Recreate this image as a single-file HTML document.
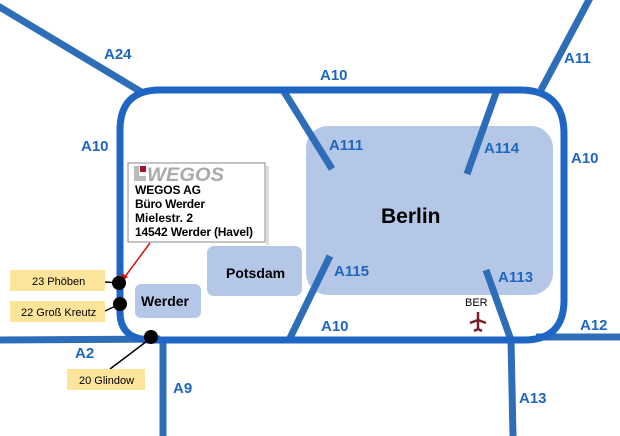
<!DOCTYPE html>
<html><head><meta charset="utf-8"><style>
html,body{margin:0;padding:0;background:#fff;width:620px;height:436px;overflow:hidden}
svg{display:block}
.l{font-family:"Liberation Sans",sans-serif;font-weight:bold;font-size:15px;fill:#1f66bf}
.b{font-family:"Liberation Sans",sans-serif;font-weight:bold;fill:#000}
.y{font-family:"Liberation Sans",sans-serif;font-size:11px;fill:#000}
</style></head><body>
<svg width="620" height="436" viewBox="0 0 620 436">
<rect x="306" y="126" width="247" height="169" rx="22" fill="#b4c7e7"/>
<rect x="207" y="246" width="95" height="50" rx="7" fill="#b4c7e7"/>
<rect x="135" y="284" width="66" height="34" rx="6" fill="#b4c7e7"/>
<g stroke="#2e6db7" stroke-width="7" fill="none">
<line x1="-2" y1="6" x2="143" y2="93"/>
<line x1="590" y1="-2" x2="541" y2="90"/>
<line x1="283" y1="90" x2="332" y2="169"/>
<line x1="497" y1="90" x2="467" y2="174"/>
<line x1="330" y1="256" x2="289" y2="340"/>
<line x1="486" y1="270" x2="511" y2="340"/>
<line x1="511" y1="340" x2="513" y2="436"/>
<line x1="536" y1="337" x2="620" y2="337"/>
<line x1="0" y1="340" x2="160" y2="339"/>
<line x1="163" y1="339" x2="163" y2="436"/>
</g>
<path d="M120 312 L120 130 Q120 90 160 90 L520 90 Q564 90 564 134 L564 300 Q564 340 524 340 L152 340 Q120 340 120 312 Z" stroke="#1f66c4" stroke-width="7" fill="none"/>
<text class="l" x="104" y="59">A24</text>
<text class="l" x="320" y="80">A10</text>
<text class="l" x="564" y="63">A11</text>
<text class="l" x="81" y="151">A10</text>
<text class="l" x="329" y="150">A111</text>
<text class="l" x="484" y="153">A114</text>
<text class="l" x="571" y="163">A10</text>
<text class="l" x="334" y="276">A115</text>
<text class="l" x="498" y="282">A113</text>
<text class="l" x="321" y="331">A10</text>
<text class="l" x="580" y="330">A12</text>
<text class="l" x="75" y="358">A2</text>
<text class="l" x="173" y="393">A9</text>
<text class="l" x="519" y="403">A13</text>
<text class="b" x="381" y="223" font-size="21">Berlin</text>
<text class="b" x="226" y="278" font-size="14">Potsdam</text>
<text class="b" x="141" y="306" font-size="14">Werder</text>
<text font-family="Liberation Sans,sans-serif" font-size="11" x="465" y="306">BER</text>
<path d="M478 312 L478 330 M470 323 L478 320 L486 323 M474 331 L478 329 L482 331" stroke="#7a1f2b" stroke-width="2.5" fill="none"/>
<rect x="128" y="163" width="137" height="79" fill="#fff" stroke="#888" stroke-width="1"/>
<rect x="266" y="166" width="3" height="79" fill="#ddd"/>
<rect x="134" y="166" width="5" height="15" fill="#bbb"/><rect x="134" y="176" width="12" height="5" fill="#bbb"/>
<rect x="140" y="166" width="6" height="6" fill="#a0152e"/>
<text x="147" y="181" font-family="Liberation Sans,sans-serif" font-weight="bold" font-style="italic" font-size="19" fill="#aaa" textLength="77" lengthAdjust="spacingAndGlyphs">WEGOS</text>
<text class="b" font-size="12" x="135" y="194" textLength="66">WEGOS AG</text>
<text class="b" font-size="12" x="135" y="208" textLength="70">Büro Werder</text>
<text class="b" font-size="12" x="135" y="222" textLength="58">Mielestr. 2</text>
<text class="b" font-size="12" x="135" y="236" textLength="118">14542 Werder (Havel)</text>
<line x1="150" y1="243" x2="124" y2="278" stroke="#d01010" stroke-width="1.5"/>
<path d="M122 281 L122 273 L128 277 Z" fill="#d01010"/>
<line x1="105" y1="282" x2="119" y2="283" stroke="#000" stroke-width="1.5"/>
<line x1="105" y1="311" x2="120" y2="304" stroke="#000" stroke-width="1.5"/>
<line x1="110" y1="369" x2="151" y2="338" stroke="#000" stroke-width="1.5"/>
<circle cx="119" cy="283" r="7"/>
<circle cx="120" cy="304" r="7"/>
<circle cx="151" cy="337" r="7"/>
<rect x="10" y="270" width="95" height="21" fill="#fde49b"/>
<rect x="10" y="301" width="95" height="21" fill="#fde49b"/>
<rect x="67" y="369" width="78" height="21" fill="#fde49b"/>
<text class="y" x="32" y="285">23 Phöben</text>
<text class="y" x="21" y="316">22 Groß Kreutz</text>
<text class="y" x="79" y="384">20 Glindow</text>
</svg>
</body></html>
